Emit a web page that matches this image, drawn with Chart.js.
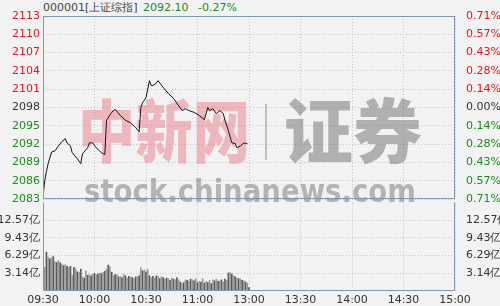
<!DOCTYPE html>
<html>
<head>
<meta charset="utf-8">
<script src="https://cdn.jsdelivr.net/npm/chart.js@4"></script>
<style>
  html, body { margin: 0; padding: 0; background: #f2f2f2; }
  #wrap { position: relative; width: 500px; height: 306px; overflow: hidden; font: 11px "DejaVu Sans", sans-serif; }
  #wrap canvas { position: absolute; left: 0; }
  #priceCanvas { top: 0; z-index: 2; }
  #volCanvas { top: 193px; z-index: 1; }
  .hd { position: absolute; top: 1px; line-height: 14px; white-space: nowrap; }
</style>
</head>
<body>
<div id="wrap">
  <span class="hd" style="left:43px;color:#444">000001[上证综指]</span>
  <span class="hd" style="left:143px;color:#1a8c1a">2092.10</span>
  <span class="hd" style="left:198px;color:#1a8c1a">-0.27%</span>
  <canvas id="priceCanvas" width="500" height="212"></canvas>
  <canvas id="volCanvas" width="500" height="113"></canvas>
</div>
<script>
// minutes since 09:30 (trading minutes, lunch break skipped)
const priceMin = [0, 1, 2, 3, 5, 7, 9, 11, 13, 14, 16, 17, 20, 22, 23, 26, 27, 29, 31, 34,
  36, 37, 40, 42, 45, 48, 51, 54, 56, 57, 58, 59, 60, 62, 63, 64, 66, 67, 70, 73,
  76, 79, 81, 83, 85, 88, 91, 94, 96, 97, 99, 101, 103, 105, 106, 108, 110, 112, 113, 115,
  117, 118, 119];
const price = [2083.3, 2086.0, 2087.5, 2088.8, 2090.7, 2090.9, 2091.7, 2092.4, 2092.9, 2092.2,
  2091.7, 2090.6, 2089.6, 2088.8, 2090.4, 2091.4, 2092.2, 2092.2, 2091.4, 2090.6,
  2090.3, 2095.9, 2097.2, 2097.7, 2096.7, 2095.9, 2095.5, 2094.7, 2094.0, 2098.0,
  2098.8, 2099.2, 2099.6, 2102.4, 2101.6, 2101.6, 2102.0, 2102.4, 2101.3, 2100.3,
  2099.5, 2098.3, 2097.5, 2097.8, 2097.5, 2097.2, 2096.7, 2096.0, 2098.0, 2097.5,
  2097.8, 2097.0, 2097.5, 2097.0, 2095.9, 2094.2, 2092.2, 2092.1, 2091.4, 2091.7,
  2092.2, 2092.1, 2092.1];

// volume per minute, in 亿
const volume = [4.2, 6.9, 6.0, 5.7, 5.9, 6.1, 5.2, 5.1, 5.4, 5.0, 4.8, 4.5,
  4.7, 4.4, 4.2, 4.4, 2.8, 4.2, 4.0, 3.4, 3.3, 3.9, 2.5, 2.3,
  3.6, 2.8, 2.9, 2.7, 3.0, 3.1, 2.9, 3.0, 3.2, 3.1, 3.3, 3.5,
  3.9, 4.6, 4.3, 3.3, 2.7, 2.9, 2.9, 2.5, 2.6, 2.4, 2.9, 2.7,
  2.3, 2.6, 2.5, 2.4, 2.2, 2.5, 2.5, 2.7, 4.1, 3.6, 3.7, 3.4,
  3.8, 2.7, 2.4, 2.6, 2.3, 2.7, 2.6, 2.2, 2.5, 2.4, 2.1, 2.3,
  2.2, 1.9, 2.3, 2.1, 2.0, 2.4, 2.0, 1.6, 1.3, 1.5, 2.0, 1.9,
  1.7, 2.1, 2.0, 1.8, 2.2, 1.5, 1.7, 1.6, 2.2, 1.4, 1.7, 1.5,
  1.9, 1.3, 2.0, 1.8, 2.1, 1.7, 1.8, 2.0, 1.6, 2.1, 1.9, 3.2,
  3.3, 3.0, 2.7, 2.5, 2.3, 2.2, 2.1, 1.9, 1.8, 1.6, 1.4, 0.6];

const timeTicks = [0, 30, 60, 90, 120, 150, 180, 210, 240];
const timeLabels = ['09:30', '10:00', '10:30', '11:00', '13:00', '13:30', '14:00', '14:30', '15:00'];
const priceTicks = [2083, 2086, 2089, 2092, 2095, 2098, 2101, 2104, 2107, 2110, 2113];
const pctLabels = ['0.71%', '0.57%', '0.43%', '0.28%', '0.14%', '0.00%', '0.14%', '0.28%', '0.43%', '0.57%', '0.71%'];
const volTicks = [3.14, 6.29, 9.43, 12.57];
const volLabels = ['3.14亿', '6.29亿', '9.43亿', '12.57亿'];
const volMax = 15.71;
const prevClose = 2098;

const RED = '#e3161d';
const GREEN = '#1a8c1a';
const TEXT = '#333333';
const GRID = '#c4c4c4';
const FRAME = '#8396aa';
const FONT = { family: '"DejaVu Sans", sans-serif', size: 11 };

function tickColor(ctx) {
  const v = priceTicks[ctx.index];
  if (v > prevClose) return RED;
  if (v < prevClose) return GREEN;
  return TEXT;
}

// frame round the plot area; the volume panel shares its top edge with the price panel
function makeFrame(withTop) {
  return {
    id: 'frame',
    afterDraw(chart) {
      const { ctx, chartArea: a } = chart;
      const l = Math.round(a.left) + 0.5, r = Math.round(a.right) - 0.5;
      const t = Math.round(a.top) + 0.5, b = Math.round(a.bottom) - 0.5;
      ctx.save();
      ctx.strokeStyle = FRAME;
      ctx.lineWidth = 1;
      ctx.beginPath();
      if (withTop) {
        ctx.moveTo(l, b); ctx.lineTo(l, t); ctx.lineTo(r, t); ctx.lineTo(r, b); ctx.lineTo(l, b);
      } else {
        ctx.moveTo(l, a.top); ctx.lineTo(l, b); ctx.lineTo(r, b); ctx.lineTo(r, a.top);
      }
      ctx.stroke();
      ctx.restore();
    }
  };
}

const watermarkPlugin = {
  id: 'watermark',
  beforeDatasetsDraw(chart) {
    const ctx = chart.ctx;
    ctx.save();
    ctx.textBaseline = 'middle';
    ctx.textAlign = 'left';
    ctx.fillStyle = 'rgba(232, 120, 132, 0.48)';
    ctx.font = '900 68px "Noto Sans CJK SC"';
    ctx.fillText('中新网', 78, 131, 172);
    ctx.strokeStyle = 'rgba(120, 120, 120, 0.4)';
    ctx.lineWidth = 2;
    ctx.beginPath();
    ctx.moveTo(266, 104);
    ctx.lineTo(266, 160);
    ctx.stroke();
    ctx.fillStyle = 'rgba(105, 105, 105, 0.48)';
    ctx.font = '900 70px "Noto Sans CJK SC"';
    ctx.fillText('证券', 284, 131, 138);
    ctx.textBaseline = 'alphabetic';
    ctx.fillStyle = 'rgba(105, 105, 105, 0.46)';
    ctx.font = 'bold 32px "DejaVu Sans"';
    ctx.fillText('stock.chinanews.com', 84, 202, 332);
    ctx.restore();
  }
};

function sideAxis(position, width, labelFn, colorFn, extra) {
  return Object.assign({
    position: position,
    afterFit(scale) { scale.width = width; },
    grid: { display: false },
    border: { display: false },
    ticks: { font: FONT, color: colorFn, padding: 3, autoSkip: false, callback: labelFn }
  }, extra);
}

new Chart(document.getElementById('priceCanvas'), {
  type: 'line',
  data: {
    datasets: [{
      data: priceMin.map((m, i) => ({ x: m, y: price[i] })),
      borderColor: '#111111',
      borderWidth: 1,
      pointRadius: 0,
      tension: 0
    }]
  },
  options: {
    responsive: false,
    animation: false,
    layout: { padding: { top: 16, bottom: 13, left: 0, right: 0 } },
    plugins: { legend: { display: false }, tooltip: { enabled: false } },
    scales: {
      x: {
        type: 'linear', min: 0, max: 240,
        afterBuildTicks(scale) { scale.ticks = timeTicks.map(v => ({ value: v })); },
        ticks: { display: false },
        grid: { color: GRID, drawTicks: false },
        border: { display: false, dash: [1, 2] }
      },
      y: sideAxis('left', 43, (v, i) => String(priceTicks[i]), tickColor, {
        min: 2083, max: 2113,
        afterBuildTicks(scale) { scale.ticks = priceTicks.map(v => ({ value: v })); },
        grid: { color: GRID, drawTicks: false },
        border: { display: false, dash: [1, 2] }
      }),
      y2: sideAxis('right', 45, (v, i) => pctLabels[i], tickColor, {
        min: 2083, max: 2113,
        afterBuildTicks(scale) { scale.ticks = priceTicks.map(v => ({ value: v })); }
      })
    }
  },
  plugins: [watermarkPlugin, makeFrame(true)]
});

new Chart(document.getElementById('volCanvas'), {
  type: 'bar',
  data: {
    datasets: [{
      data: volume.map((v, i) => ({ x: i + 1, y: v })),
      backgroundColor: volume.map((v, i) => (i % 2 ? '#5a5a5a' : '#9a9a9a')),
      barThickness: 1,
      borderWidth: 0
    }]
  },
  options: {
    responsive: false,
    animation: false,
    layout: { padding: 0 },
    plugins: { legend: { display: false }, tooltip: { enabled: false } },
    scales: {
      x: {
        type: 'linear', min: 0, max: 240, offset: false,
        afterBuildTicks(scale) { scale.ticks = timeTicks.map(v => ({ value: v })); },
        afterFit(scale) { scale.height = 15; },
        ticks: { font: FONT, color: TEXT, padding: 3, autoSkip: false, maxRotation: 0,
          callback: (v, i) => timeLabels[i] },
        grid: { color: GRID, drawTicks: false, offset: false },
        border: { display: false, dash: [1, 2] }
      },
      y: sideAxis('left', 43, (v, i) => volLabels[i], TEXT, {
        min: 0, max: volMax,
        afterBuildTicks(scale) { scale.ticks = volTicks.map(v => ({ value: v })); },
        grid: { color: GRID, drawTicks: false },
        border: { display: false, dash: [1, 2] }
      }),
      y2: sideAxis('right', 45, (v, i) => volLabels[i], TEXT, {
        min: 0, max: volMax,
        afterBuildTicks(scale) { scale.ticks = volTicks.map(v => ({ value: v })); }
      })
    }
  },
  plugins: [makeFrame(false)]
});
</script>
</body>
</html>
